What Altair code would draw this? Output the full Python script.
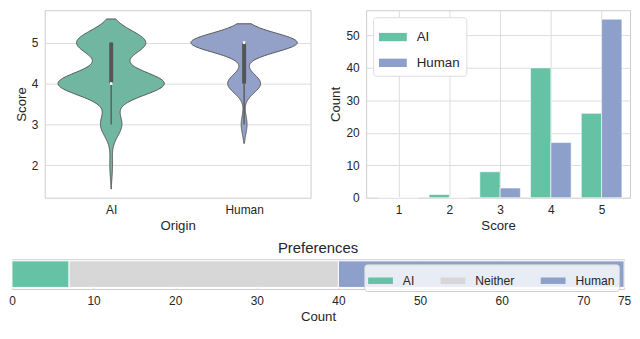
import json
import altair as alt
import numpy as np
import pandas as pd

# ---------------- data ----------------
origins = ["AI", "Human"]
scores = [1, 2, 3, 4, 5]
ai_counts = [0, 1, 8, 40, 26]
human_counts = [0, 0, 3, 17, 55]
pref_labels = ["AI", "Neither", "Human"]
pref_counts = [7, 33, 35]
pref_ticks = [0, 10, 20, 30, 40, 50, 60, 70, 75]
count_ticks = [0, 10, 20, 30, 40, 50]
score_ticks = [2, 3, 4, 5]

# ---------------- style ----------------
FONT = "Liberation Sans"
bar_colors = ["#66c2a5", "#8da0cb"]
violin_colors = ["#71b6a1", "#93a1c8"]
pref_colors = ["#66c2a5", "#d7d7d7", "#8da0cb"]
INNER = "#555555"

counts_by_origin = [ai_counts, human_counts]

hist_df = pd.DataFrame([
    {"origin": o, "oi": i, "score": s, "count": c}
    for i, o in enumerate(origins)
    for s, c in zip(scores, counts_by_origin[i])
])

raw_df = pd.DataFrame([
    {"origin": o, "idx": i, "score": s}
    for i, o in enumerate(origins)
    for s, c in zip(scores, counts_by_origin[i])
    for _ in range(c)
])

pref_df = pd.DataFrame({
    "label": pref_labels,
    "count": pref_counts,
    "order": list(range(len(pref_labels))),
    "grp": ["Preferences"] * len(pref_labels),
})

# ---------------- violin ----------------
W1, H1 = 268, 189
vx = alt.Scale(domain=[-0.5, len(origins) - 0.5], nice=False, zero=False)
vy = alt.Scale(domain=[1.21, 5.79], nice=False, zero=False)
x_axis_v = alt.Axis(values=list(range(len(origins))), grid=False,
                    labelExpr=f"{json.dumps(origins)}[datum.value]", title="Origin")
y_axis_v = alt.Axis(values=score_ticks, grid=True, title="Score", format="d")

layers = []
for i, o in enumerate(origins):
    sample = raw_df.loc[raw_df.origin == o, "score"].to_numpy(dtype=float)
    bw = float(np.std(sample, ddof=1) * len(sample) ** (-1 / 5))
    lo, hi = float(sample.min() - 2 * bw), float(sample.max() + 2 * bw)
    layer = (
        alt.Chart(raw_df)
        .transform_filter(alt.datum.origin == o)
        .transform_density("score", as_=["score", "density"], groupby=["idx"],
                           bandwidth=bw, extent=[lo, hi], steps=240)
        .transform_joinaggregate(dmax="max(density)", groupby=["idx"])
        .transform_calculate(
            xl="datum.idx - 0.4 * datum.density / datum.dmax",
            xr="datum.idx + 0.4 * datum.density / datum.dmax",
        )
        .mark_area(orient="horizontal", fill=violin_colors[i], stroke=INNER,
                   strokeWidth=1, fillOpacity=1)
        .encode(
            y=alt.Y("score:Q", scale=vy, axis=y_axis_v),
            x=alt.X("xl:Q", scale=vx, axis=x_axis_v),
            x2="xr:Q",
        )
    )
    layers.append(layer)

box_base = (
    alt.Chart(raw_df)
    .transform_joinaggregate(q1="q1(score)", q3="q3(score)", med="median(score)",
                             groupby=["origin", "idx"])
    .transform_filter(
        "datum.score >= datum.q1 - 1.5*(datum.q3-datum.q1) && "
        "datum.score <= datum.q3 + 1.5*(datum.q3-datum.q1)"
    )
    .transform_aggregate(lo="min(score)", hi="max(score)", q1="min(q1)",
                         q3="min(q3)", med="min(med)", groupby=["origin", "idx"])
)
whisker = box_base.mark_rule(color=INNER, strokeWidth=1.3).encode(
    x=alt.X("idx:Q", scale=vx, axis=x_axis_v),
    y=alt.Y("lo:Q", scale=vy, axis=y_axis_v), y2="hi:Q")
box = box_base.mark_rule(color=INNER, strokeWidth=4).encode(
    x=alt.X("idx:Q", scale=vx, axis=x_axis_v),
    y=alt.Y("q1:Q", scale=vy, axis=y_axis_v), y2="q3:Q")
median = box_base.mark_square(color="white", size=7, opacity=1).encode(
    x=alt.X("idx:Q", scale=vx, axis=x_axis_v),
    y=alt.Y("med:Q", scale=vy, axis=y_axis_v))

violin = alt.layer(*layers, whisker, box, median).properties(width=W1, height=H1)

# ---------------- histogram ----------------
W2, H2 = 266, 189
hx = alt.Scale(domain=[0.36, 5.56], nice=False, zero=False)
hy = alt.Scale(domain=[0, 57.75], nice=False)
rect_path = "M-1,-0.3L1,-0.3L1,0.3L-1,0.3Z"
hist = (
    alt.Chart(hist_df)
    .transform_calculate(x0="datum.score - 0.4 + 0.4*datum.oi",
                         x1="datum.score + 0.4*datum.oi")
    .mark_bar(stroke="white", strokeWidth=0.6)
    .encode(
        x=alt.X("x0:Q", scale=hx, axis=alt.Axis(values=scores, title="Score", grid=True, format="d")),
        x2="x1:Q",
        y=alt.Y("count:Q", scale=hy, axis=alt.Axis(values=count_ticks, title="Count", grid=True)),
        y2=alt.datum(0),
        color=alt.Color("origin:N", scale=alt.Scale(domain=origins, range=bar_colors),
                        legend=alt.Legend(title=None, orient="top-left",
                                          offset=7, fillColor="white", strokeColor="#dddddd",
                                          cornerRadius=3, padding=6, symbolType=rect_path,
                                          symbolSize=784, symbolStrokeWidth=0,
                                          labelFontSize=13.4, labelOffset=10,
                                          rowPadding=5, labelColor="#262626",
                                          labelFont=FONT)),
    )
    .properties(width=W2, height=H2)
)

# ---------------- preferences ----------------
W3, H3 = 617, 30
pref = (
    alt.Chart(pref_df)
    .mark_bar(stroke="white", strokeWidth=1)
    .encode(
        x=alt.X("count:Q", stack="zero",
                scale=alt.Scale(domain=[0, sum(pref_counts)], nice=False),
                axis=alt.Axis(values=pref_ticks, title="Count", grid=True, format="d")),
        y=alt.Y("grp:N", axis=None, scale=alt.Scale(paddingInner=0, paddingOuter=0.06)),
        order=alt.Order("order:Q"),
        color=alt.Color("label:N", scale=alt.Scale(domain=pref_labels, range=pref_colors),
                        legend=alt.Legend(title=None, orient="top-right", direction="horizontal",
                                          offset=5, fillColor="rgba(255,255,255,0.8)",
                                          strokeColor="#cccccc", cornerRadius=3, padding=4,
                                          symbolType="M-1,-0.26L1,-0.26L1,0.26L-1,0.26Z",
                                          symbolSize=625, symbolStrokeWidth=0,
                                          labelFontSize=12.2, labelOffset=10,
                                          columnPadding=26, labelColor="#262626",
                                          labelFont=FONT)),
    )
    .properties(width=W3, height=H3,
                title=alt.TitleParams("Preferences", fontSize=15, fontWeight="normal",
                                      font=FONT, color="#262626", offset=3))
)

# invisible zero-size spacer so that the first row's group origin sits left of the violin axis
spacer = (
    alt.Chart(pd.DataFrame({"v": [0]}))
    .mark_point(size=0, opacity=0)
    .encode(x=alt.X("v:Q", axis=None), y=alt.Y("v:Q", axis=None))
    .properties(width=1, height=1, view=alt.ViewBackground(strokeOpacity=0))
)

panels = alt.hconcat(violin, hist, spacing=17).resolve_scale(color="independent")
row1 = alt.hconcat(spacer, panels, spacing=0).resolve_scale(color="independent")
chart = (
    alt.vconcat(row1, pref, spacing=8)
    .resolve_scale(color="independent")
    .properties(padding=0)
    .configure_view(stroke="#cccccc", strokeWidth=1)
    .configure_axis(labelFont=FONT, titleFont=FONT, labelFontSize=12, titleFontSize=13.3,
                    labelColor="#262626", titleColor="#262626", titleFontWeight="normal",
                    domain=False, ticks=False, gridColor="#dddddd", gridWidth=1,
                    labelPadding=7, titlePadding=3, labelFlush=False)
    .configure_legend(labelFont=FONT)
)

chart.save("out.html", embed_options={"renderer": "svg", "actions": False})
